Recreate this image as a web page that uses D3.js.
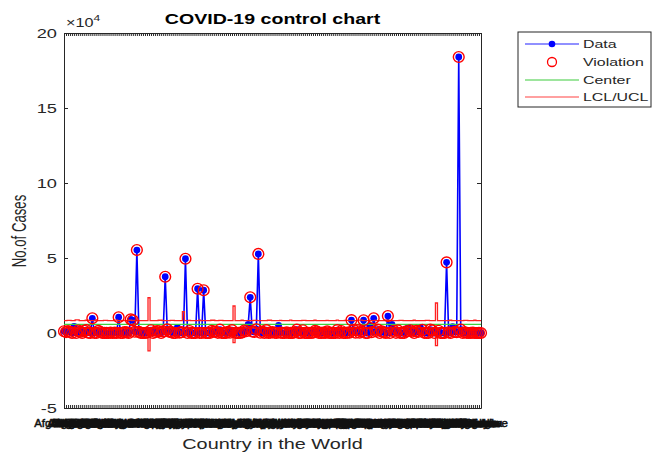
<!DOCTYPE html>
<html>
<head>
<meta charset="utf-8">
<script src="https://cdn.jsdelivr.net/npm/d3@7"></script>
<style>
  body { margin: 0; background: #fff; }
  text { font-family: "Liberation Sans", Arial, Helvetica, sans-serif; fill: #262626; }
</style>
</head>
<body>
<div id="chart"></div>
<script>
// countries on the x axis (one tick each)
const countries = [
  "Afghanistan","Albania","Algeria","Andorra","Angola","Anguilla","Antigua","Argentina","Armenia","Aruba",
  "Australia","Austria","Azerbaijan","Bahamas","Bahrain","Bangladesh","Barbados","Belarus","Belgium","Belize",
  "Benin","Bermuda","Bhutan","Bolivia","Bonaire","Bosnia and Herzegovina","Botswana","Brazil","British Virgin Islands","Brunei",
  "Bulgaria","Burkina Faso","Burundi","Cambodia","Cameroon","Canada","Cape Verde","International conveyance","Cayman Islands","Central African Republic",
  "Chad","Chile","China","Colombia","Congo","Costa Rica","Cote dIvoire","Croatia","Cuba","Curaçao",
  "Cyprus","Czechia","Democratic Republic of the Congo","Denmark","Djibouti","Dominica","Dominican Republic","Ecuador","Egypt","El Salvador",
  "Equatorial Guinea","Eritrea","Estonia","Eswatini","Ethiopia","Falkland Islands","Faroe Islands","Fiji","Finland","France",
  "French Polynesia","Gabon","Gambia","Georgia","Germany","Ghana","Gibraltar","Greece","Greenland","Grenada",
  "Guam","Guatemala","Guernsey","Guinea","Guinea Bissau","Guyana","Haiti","Holy See","Honduras","Hungary",
  "Iceland","India","Indonesia","Iran","Iraq","Ireland","Isle of Man","Israel","Italy","Jamaica",
  "Japan","Jersey","Jordan","Kazakhstan","Kenya","Kosovo","Kuwait","Kyrgyzstan","Laos","Latvia",
  "Lebanon","Liberia","Libya","Liechtenstein","Lithuania","Luxembourg","Madagascar","Malawi","Malaysia","Maldives",
  "Mali","Malta","Mauritania","Mauritius","Mexico","Moldova","Monaco","Mongolia","Montenegro","Montserrat",
  "Morocco","Mozambique","Myanmar","Namibia","Nepal","Netherlands","New Caledonia","New Zealand","Nicaragua","Niger",
  "Nigeria","North Macedonia","Northern Mariana Islands","Norway","Oman","Pakistan","Palestine","Panama","Papua New Guinea","Paraguay",
  "Peru","Philippines","Poland","Portugal","Puerto Rico","Qatar","Romania","Russia","Rwanda","Saint Kitts and Nevis",
  "Saint Lucia","Saint Vincent and the Grenadines","San Marino","Sao Tome and Principe","Saudi Arabia","Senegal","Serbia","Seychelles","Sierra Leone","Singapore",
  "Sint Maarten","Slovakia","Slovenia","Somalia","South Africa","South Korea","South Sudan","Spain","Sri Lanka","Sudan",
  "Suriname","Sweden","Switzerland","Syria","Taiwan","Thailand","Timor Leste","Togo","Trinidad and Tobago","Tunisia",
  "Turkey","Turks and Caicos","Uganda","Ukraine","UAE","United Kingdom","Tanzania","United States","Virgin Islands","Uruguay",
  "Uzbekistan","Venezuela","Vietnam","W. Sahara","Yemen","Zambia","Zimbabwe"
];

// no. of cases per country
const cases = [
  1180, 640, 1320, 710, 30, 4400, 20, 1650, 900, 80,
  1480, 1950, 210, 60, 9800, 140, 40, 1400, 660, 10,
  50, 70, 10, 300, 5, 190, 20, 10500, 3, 120,
  560, 380, 10, 9100, 8400, 820, 55300, 710, 45, 10,
  10, 300, 1200, 1850, 45, 690, 1300, 1150, 40, 1100,
  37500, 2400, 900, 620, 30, 15, 3800, 250, 560, 5,
  49500, 15, 1300, 60, 40, 10, 29500, 150, 5, 28500,
  50, 20, 10, 1500, 900, 830, 140, 2200, 10, 15,
  110, 700, 200, 1900, 80, 20, 30, 10, 400, 1650,
  1200, 5800, 23800, 1100, 700, 2500, 52700, 180, 1000, 60,
  1900, 20, 270, 650, 180, 100, 5000, 280, 20, 10,
  480, 10, 20, 80, 540, 2200, 70, 30, 1800, 20,
  40, 150, 10, 270, 1500, 1000, 70, 20, 250, 10,
  1100, 10, 80, 10, 5, 1900, 20, 1300, 5, 10,
  200, 230, 8600, 2100, 250, 1900, 240, 990, 8500, 70,
  30, 4900, 620, 9800, 1300, 2200, 10, 1100, 460, 60,
  11300, 40, 5800, 1500, 130, 1700, 130, 10, 20, 1100,
  3600, 1800, 1000, 10, 1400, 800, 3800, 2100, 150, 10,
  10, 2300, 1700, 10, 380, 1500, 1, 70, 100, 47100,
  460, 10, 4200, 800, 610, 184000, 2200, 50, 500, 150,
  10, 150, 200, 10, 1, 40, 10
];

// centre line and half width of the control limits per country
const center = 5800;
const limitWidth = [
  2400, 2400, 2600, 2600, 2400, 2400, 2900, 2900, 2400, 2400,
  2400, 2700, 2700, 2400, 2400, 2400, 2900, 2400, 2400, 2400,
  2600, 2600, 2400, 2400, 2400, 2800, 2800, 2400, 2400, 2400,
  2400, 2400, 2700, 2700, 2400, 2600, 2600, 2400, 2400, 2400,
  2500, 2500, 17700, 2500, 2400, 2400, 2400, 2700, 2700, 2400,
  2400, 2400, 2400, 2600, 2600, 2400, 2400, 2400, 2400, 8400,
  2400, 2400, 2600, 2400, 2400, 2400, 2400, 2800, 2400, 2400,
  2400, 2400, 2400, 2700, 2700, 2400, 2400, 2600, 2600, 2400,
  2400, 2400, 2400, 2400, 12200, 2400, 2400, 2400, 2700, 2400,
  2400, 2400, 2400, 2400, 2600, 2600, 2400, 2400, 2400, 2400,
  2400, 2700, 2700, 2400, 2400, 2400, 2400, 2600, 2400, 2400,
  2400, 2400, 2800, 2400, 2400, 2400, 2400, 2400, 2600, 2600,
  2400, 2400, 2400, 2400, 2700, 2400, 2400, 2400, 2400, 2400,
  2600, 2400, 2400, 2400, 2400, 2800, 2400, 2400, 2400, 2600,
  2600, 2400, 2400, 2400, 2400, 2400, 2800, 2800, 2400, 2400,
  2400, 2400, 2400, 2400, 2600, 2400, 2400, 2400, 2400, 2700,
  2700, 2400, 2400, 2400, 2400, 2400, 2600, 2600, 2400, 2400,
  2400, 2400, 2400, 2700, 2400, 2400, 2400, 2400, 2400, 2600,
  2600, 2400, 2400, 2400, 14200, 2400, 2400, 2400, 2400, 2400,
  2400, 2700, 2400, 2400, 2400, 2400, 2400, 2400, 2600, 2600,
  2400, 2400, 2400, 2700, 2400, 2400, 2400
];

const yTicks = [-5, 0, 5, 10, 15, 20]; // in units of 10^4
const legendItems = ["Data", "Violation", "Center", "LCL/UCL"];

const width = 652, height = 454;
const plot = {left: 64, right: 481, top: 33, bottom: 408};
const stretch = 1.35; // the original figure was squeezed vertically

const svg = d3.select("#chart")
  .append("svg")
    .attr("width", width)
    .attr("height", height);

const x = d3.scaleLinear()
  .domain([1, countries.length])
  .range([plot.left, plot.right]);

const y = d3.scaleLinear()
  .domain([yTicks[0] * 1e4, yTicks[yTicks.length - 1] * 1e4])
  .range([plot.bottom, plot.top]);

const rows = cases.map((v, i) => ({
  i: i + 1,
  value: v,
  ucl: center + limitWidth[i],
  lcl: center - limitWidth[i]
}));

// text helper, squeezed like the original picture
function label(g, str, px, py, size, anchor, extra, sx) {
  return g.append("text")
    .attr("transform", `translate(${px},${py}) scale(${sx || stretch},1)` + (extra || ""))
    .attr("text-anchor", anchor)
    .style("font-size", size + "px")
    .text(str);
}

// axes: left with labels, bottom with every country, mirrored right/top
const yAxis = svg.append("g")
  .attr("transform", `translate(${plot.left},0)`)
  .call(d3.axisLeft(y)
    .tickValues(yTicks.map(d => d * 1e4))
    .tickFormat(d => String(d / 1e4))
    .tickSize(-4)
    .tickSizeOuter(0));
yAxis.selectAll("text")
  .attr("x", null)
  .attr("dy", "0.36em")
  .attr("transform", `translate(-7,0) scale(${stretch},1)`)
  .style("font-size", "13.5px");

svg.append("g")
  .attr("transform", `translate(${plot.right},0)`)
  .call(d3.axisRight(y)
    .tickValues(yTicks.map(d => d * 1e4))
    .tickFormat("")
    .tickSize(-4)
    .tickSizeOuter(0));

svg.append("g")
  .attr("transform", `translate(0,${plot.bottom})`)
  .call(d3.axisBottom(x)
    .tickValues(d3.range(1, countries.length + 1))
    .tickFormat(d => countries[d - 1])
    .tickSize(-3)
    .tickSizeOuter(0)
    .tickPadding(11))
  .selectAll("text")
    .style("font-size", "11.5px")
    .style("fill", "#111")
    .attr("stroke", "#111")
    .attr("stroke-width", 0.5);

svg.append("g")
  .attr("transform", `translate(0,${plot.top})`)
  .call(d3.axisTop(x)
    .tickValues(d3.range(1, countries.length + 1))
    .tickFormat("")
    .tickSize(-3)
    .tickSizeOuter(0));

svg.selectAll(".domain, .tick line").attr("stroke", "#262626");

// data line and markers
svg.append("path")
  .datum(rows)
  .attr("fill", "none")
  .attr("stroke", "#0000ff")
  .attr("stroke-width", 1.6)
  .attr("d", d3.line().x(d => x(d.i)).y(d => y(d.value)));

svg.append("g")
  .selectAll("circle")
  .data(rows)
  .join("circle")
    .attr("cx", d => x(d.i))
    .attr("cy", d => y(d.value))
    .attr("r", 3.4)
    .attr("fill", "#0000ff");

// centre line
svg.append("line")
  .attr("x1", x(1)).attr("x2", x(countries.length))
  .attr("y1", y(center)).attr("y2", y(center))
  .attr("stroke", "#3fcf3f")
  .attr("stroke-width", 1.2);

// control limits as stairs
["ucl", "lcl"].forEach(key => {
  svg.append("path")
    .datum(rows)
    .attr("fill", "none")
    .attr("stroke", "#ff2020")
    .attr("stroke-width", 1.3)
    .attr("d", d3.line().curve(d3.curveStep).x(d => x(d.i)).y(d => y(d[key])));
});

// violations
svg.append("g")
  .selectAll("circle")
  .data(rows.filter(d => d.value > d.ucl || d.value < d.lcl))
  .join("circle")
    .attr("cx", d => x(d.i))
    .attr("cy", d => y(d.value))
    .attr("r", 5.4)
    .attr("fill", "none")
    .attr("stroke", "#ff0000")
    .attr("stroke-width", 1.4);

// titles
label(svg, "COVID-19 control chart", (plot.left + plot.right) / 2, 24, 14.5, "middle")
  .style("font-weight", "bold")
  .style("fill", "#000");
label(svg, "Country in the World", (plot.left + plot.right) / 2, 449, 14.7, "middle");
label(svg, "No.of Cases", 26, 231, 13.2, "middle", " rotate(-90)", 1.5);

const exp = label(svg, "×10", 66, 27, 12, "start");
exp.append("tspan").attr("dy", -6).style("font-size", "9px").text("4");

// legend
const legend = svg.append("g").attr("transform", "translate(518,32)");
legend.append("rect")
  .attr("width", 133).attr("height", 75)
  .attr("fill", "#fff").attr("stroke", "#262626").attr("stroke-width", 1);

const rowY = [12, 30, 48, 65];
legendItems.forEach((name, k) => {
  const g = legend.append("g").attr("transform", `translate(0,${rowY[k]})`);
  if (name === "Data") {
    g.append("line").attr("x1", 7).attr("x2", 61).attr("stroke", "#6b6bff").attr("stroke-width", 1.5);
    g.append("circle").attr("cx", 34).attr("r", 3.3).attr("fill", "#0000ff");
  } else if (name === "Violation") {
    g.append("circle").attr("cx", 34).attr("r", 4.5).attr("fill", "none")
      .attr("stroke", "#ff0000").attr("stroke-width", 1.3);
  } else {
    g.append("line").attr("x1", 7).attr("x2", 61)
      .attr("stroke", name === "Center" ? "#7ddc7d" : "#ff8080").attr("stroke-width", 1.5);
  }
  label(g, name, 65, 0, 11.8, "start").attr("dy", "0.36em");
});
</script>
</body>
</html>
